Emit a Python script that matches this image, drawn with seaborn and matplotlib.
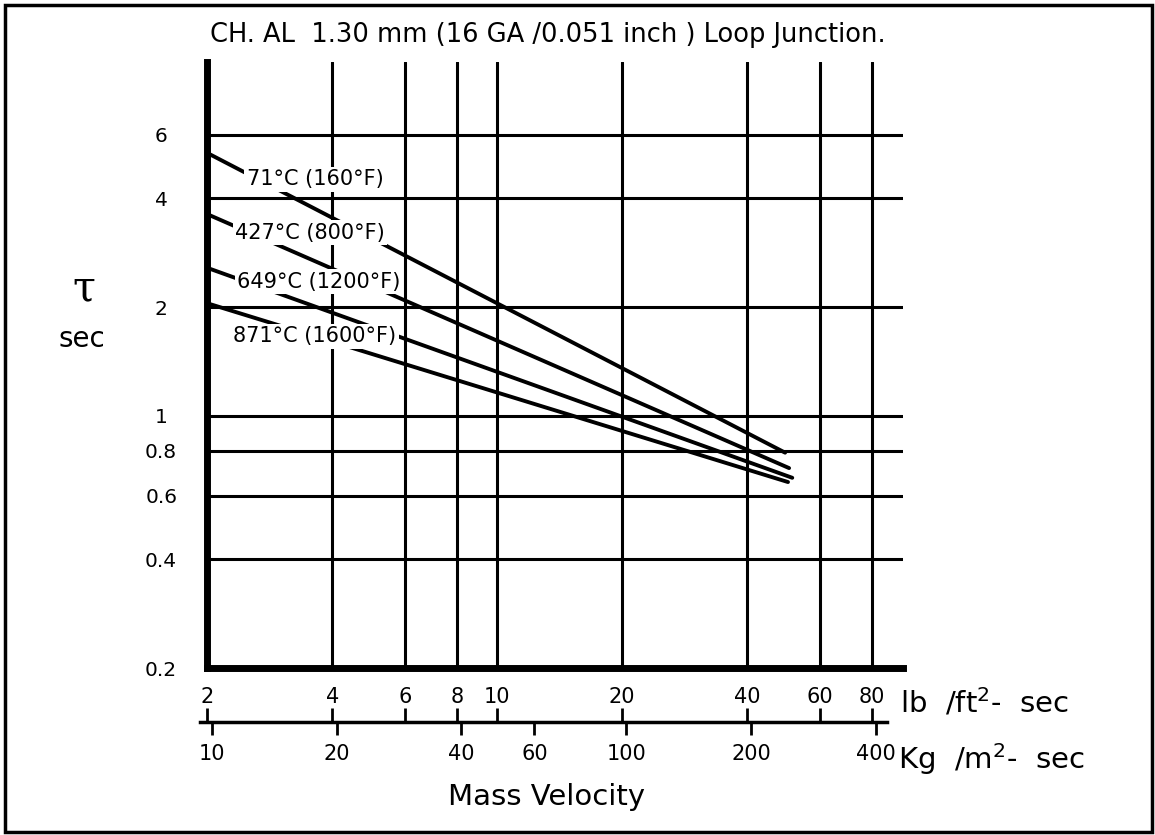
import pandas as pd
import matplotlib
matplotlib.use('Agg')
import matplotlib.pyplot as plt
import matplotlib.ticker as mticker
from matplotlib.patches import Rectangle
import seaborn as sns

# time constant curves, straight on log-log paper: read at both ends
temps = ['71°C (160°F)', '427°C (800°F)', '649°C (1200°F)', '871°C (1600°F)']
g_start = [2.0, 2.0, 2.0, 2.0]
g_end = [49.4, 50.5, 51.4, 50.2]
tau_start = [5.35, 3.62, 2.57, 2.05]
tau_end = [0.79, 0.716, 0.673, 0.655]

# where each curve label sits (data coords)
label_x = [3.64, 3.54, 3.72, 3.64]
label_y = [4.52, 3.21, 2.35, 1.66]

y_ticks = [0.2, 0.4, 0.6, 0.8, 1, 2, 4, 6]
y_ticklabels = ['0.2', '0.4', '0.6', '0.8', '1', '2', '4', '6']
lb_ticks = [2, 4, 6, 8, 10, 20, 40, 60, 80]
kg_ticks = [10, 20, 40, 60, 100, 200, 400]
KG_PER_LB = 4.882

title = 'CH. AL  1.30 mm (16 GA /0.051 inch ) Loop Junction.'

rows = []
for t, x0, x1, y0, y1 in zip(temps, g_start, g_end, tau_start, tau_end):
    rows.append({'G': x0, 'tau': y0, 'temp': t})
    rows.append({'G': x1, 'tau': y1, 'temp': t})
df = pd.DataFrame(rows)

sns.set_theme(style='white')
plt.rcParams['font.family'] = ['DejaVu Sans']
plt.rcParams['text.color'] = 'black'
plt.rcParams['mathtext.fontset'] = 'dejavusans'

W, H = 1155, 835
fig = plt.figure(figsize=(W / 100, H / 100), dpi=100)

# main chart
ax = fig.add_axes([207 / W, 167 / H, 696 / W, 606 / H])
ax.set_xscale('log')
ax.set_yscale('log')
sns.lineplot(data=df, x='G', y='tau', hue='temp', palette=['black'] * 4,
             legend=False, linewidth=2.8, ax=ax, zorder=3)
ax.set_xlim(2, 95)
ax.set_ylim(0.2, 9.55)

ax.set_xticks(lb_ticks)
ax.set_xticklabels([])
ax.set_yticks(y_ticks, y_ticklabels)
ax.xaxis.set_minor_locator(mticker.NullLocator())
ax.yaxis.set_minor_locator(mticker.NullLocator())
ax.tick_params(axis='x', length=0)
ax.tick_params(axis='y', length=0, pad=33, labelsize=14.5, labelcolor='black')
for lab in ax.get_yticklabels():
    lab.set_ha('center')
ax.set_xlabel('')
ax.set_ylabel('')

ax.grid(True, which='major', color='black', linewidth=2.2)
ax.set_axisbelow(True)
for s in ['top', 'right']:
    ax.spines[s].set_visible(False)
for s in ['left', 'bottom']:
    ax.spines[s].set_color('black')
    ax.spines[s].set_linewidth(5)

for t, lx, ly in zip(temps, label_x, label_y):
    ax.text(lx, ly, t, ha='center', va='center', fontsize=15, zorder=5,
            color='black',
            bbox=dict(boxstyle='square,pad=0.12', fc='white', ec='none'))

# dual mass velocity scale below the chart
ax2 = fig.add_axes([200 / W, 113 / H, 687 / W, 0])
ax2.set_xscale('log')
ax2.set_xlim(1.92, 87)
ax2.set_yticks([])
for s in ['left', 'right', 'bottom']:
    ax2.spines[s].set_visible(False)
ax2.spines['top'].set_color('black')
ax2.spines['top'].set_linewidth(2.5)
ax2.xaxis.set_ticks_position('top')
ax2.set_xticks(lb_ticks, [str(v) for v in lb_ticks])
ax2.xaxis.set_minor_locator(mticker.NullLocator())
ax2.tick_params(axis='x', direction='out', length=10, width=2, pad=1,
                labelsize=15, color='black', labelcolor='black')

sec = ax2.secondary_xaxis('bottom', functions=(lambda x: x * KG_PER_LB,
                                               lambda x: x / KG_PER_LB))
sec.set_xticks(kg_ticks, [str(v) for v in kg_ticks])
sec.xaxis.set_minor_locator(mticker.NullLocator())
sec.spines['bottom'].set_visible(False)
sec.tick_params(axis='x', direction='out', length=9, width=2, pad=7,
                labelsize=15, color='black', labelcolor='black')

# texts
fig.text(548 / W, 1 - 35 / H, title, ha='center', va='center', fontsize=18.5)
fig.text(84 / W, 1 - 288 / H, 'τ', ha='center', va='center', fontsize=30,
         family='DejaVu Serif')
fig.text(82 / W, 1 - 339 / H, 'sec', ha='center', va='center', fontsize=20)
fig.text(900 / W, 1 - 703 / H, 'lb  /ft$^{2}$-  sec', ha='left', va='center', fontsize=21)
fig.text(898 / W, 1 - 759 / H, 'Kg  /m$^{2}$-  sec', ha='left', va='center', fontsize=21)
fig.text(547 / W, 1 - 797 / H, 'Mass Velocity', ha='center', va='center', fontsize=21)

fig.patches.append(Rectangle((5 / W, 3 / H), 1147 / W, 827 / H, transform=fig.transFigure,
                             fill=False, edgecolor='black', linewidth=2.5))

fig.savefig('out.png', dpi=100)
